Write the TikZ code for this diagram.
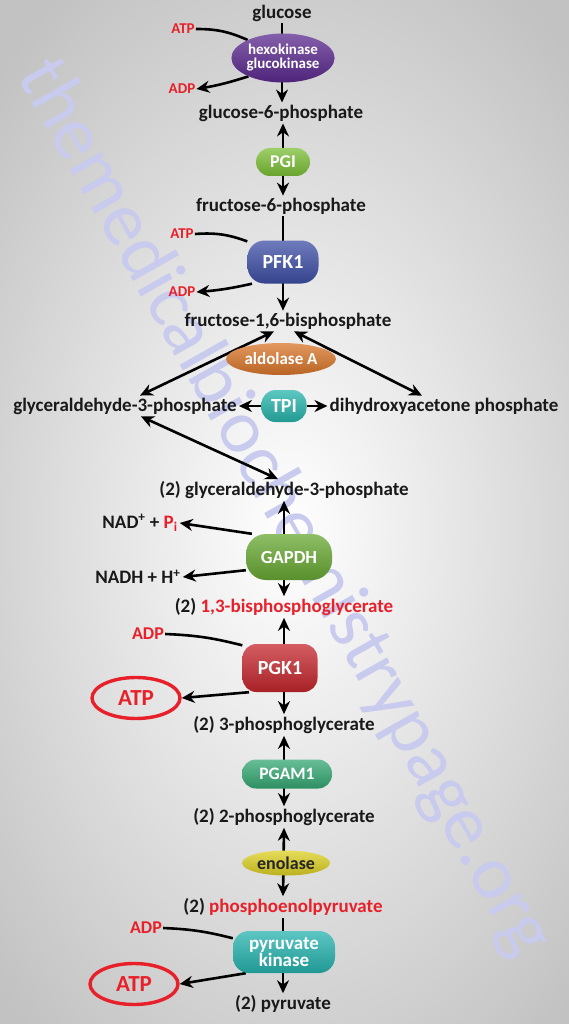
\documentclass[tikz,border=0pt]{standalone}
\usepackage{fontspec}
\setmainfont{Carlito}
\usepackage{xcolor}
\usepackage{tikz}
\usetikzlibrary{arrows.meta,shapes.geometric}
\definecolor{rxnred}{HTML}{E8202A}
\definecolor{hexo}{HTML}{5B2A8F}
\definecolor{pgi}{HTML}{7CBF36}
\definecolor{pfk}{HTML}{3E4FA6}
\definecolor{aldo}{HTML}{D9762A}
\definecolor{tpi}{HTML}{27B5AC}
\definecolor{gapdh}{HTML}{68A833}
\definecolor{pgk}{HTML}{C5272D}
\definecolor{pgam}{HTML}{35A873}
\definecolor{eno}{HTML}{DDD024}
\definecolor{pyk}{HTML}{26B3AE}
\definecolor{stamp}{HTML}{C8CAEE}
\pgfdeclarelayer{back}
\pgfdeclarelayer{lines}
\pgfsetlayers{back,lines,main}
\tikzset{
  metab/.style={font=\fontsize{19}{21}\selectfont\bfseries, text=black!90, inner sep=2pt},
  cofac/.style={font=\fontsize{15}{17}\selectfont\bfseries, text=rxnred, inner sep=1pt},
  bigcofac/.style={font=\fontsize{18}{20}\selectfont\bfseries, text=rxnred, inner sep=1pt},
  enzyme/.style={
    ellipse,
    inner sep=0pt,
    text=white,
    align=center,
    font=\fontsize{15}{15}\selectfont\bfseries,
    top color=#1!75!white,
    bottom color=#1!85!black,
    shading angle=0
  },
  enzbox/.style={enzyme=#1, rectangle, rounded corners=14pt},
  flow/.style={line width=2.6pt, -{Stealth[length=13pt,width=12pt]}},
  both/.style={line width=2.6pt, {Stealth[length=13pt,width=12pt]}-{Stealth[length=13pt,width=12pt]}},
  side/.style={line width=2.6pt},
  atpring/.style={ellipse, draw=rxnred, line width=3.4pt, text=rxnred,
    font=\fontsize{23}{25}\selectfont\bfseries, minimum width=88pt, minimum height=41pt}
}

\begin{document}
\begin{tikzpicture}[x=1pt,y=-1pt]
\useasboundingbox (0,0) rectangle (568,1024);
\begin{pgfonlayer}{back}
  \shade[inner color=white, outer color=black!24] (-120,-120) rectangle (700,1180);
  \node[rotate=-60.5, text=stamp, font=\fontsize{76}{76}\selectfont] (wm) at (284,508) {themedicalbiochemistrypage.org};
\end{pgfonlayer}

% metabolites down the centre
\node[metab] (glc) at (282,13) {glucose};
\node[metab] (g6p) at (281,113) {glucose-6-phosphate};
\node[metab] (f6p) at (281,206) {fructose-6-phosphate};
\node[metab] (f16) at (288,321) {fructose-1,6-bisphosphate};
\node[metab] (gap) at (125,406) {glyceraldehyde-3-phosphate};
\node[metab] (dhap) at (444,406) {dihydroxyacetone phosphate};
\node[metab] (gap2) at (284,490) {(2) glyceraldehyde-3-phosphate};
\node[metab] (bpg) at (284,607) {(2) \textcolor{rxnred}{1,3-bisphosphoglycerate}};
\node[metab] (pg3) at (284,725) {(2) 3-phosphoglycerate};
\node[metab] (pg2) at (284,817) {(2) 2-phosphoglycerate};
\node[metab] (pep) at (283,907) {(2) \textcolor{rxnred}{phosphoenolpyruvate}};
\node[metab] (pyr) at (283,1004) {(2) pyruvate};

% enzymes
\node[enzyme=hexo, minimum width=100pt, minimum height=49pt] (hk) at (283,58) {hexokinase\\[-1pt]glucokinase};
\node[enzbox=pgi, minimum width=54pt, minimum height=28pt, font=\fontsize{18}{18}\selectfont\bfseries] (pgiz) at (283,162) {PGI};
\node[enzbox=pfk, minimum width=71pt, minimum height=43pt, rounded corners=17pt, font=\fontsize{20}{20}\selectfont\bfseries] (pfk1) at (283,262) {PFK1};
\node[enzyme=aldo, minimum width=110pt, minimum height=32pt, font=\fontsize{17}{17}\selectfont\bfseries] (ald) at (281,359) {aldolase A};
\node[enzbox=tpi, minimum width=45pt, minimum height=32pt, font=\fontsize{20}{20}\selectfont\bfseries] (tpiz) at (284,406) {TPI};
\node[enzbox=gapdh, minimum width=86pt, minimum height=46pt, rounded corners=20pt, font=\fontsize{18.5}{18.5}\selectfont\bfseries] (gapdhz) at (289,557) {GAPDH};
\node[enzbox=pgk, minimum width=75pt, minimum height=48pt, font=\fontsize{20}{20}\selectfont\bfseries] (pgk1) at (280,668) {PGK1};
\node[enzbox=pgam, minimum width=90pt, minimum height=29pt, font=\fontsize{17.5}{17.5}\selectfont\bfseries] (pgam1) at (287,774) {PGAM1};
\node[enzyme=eno, minimum width=88pt, minimum height=25pt, text=black!85, font=\fontsize{18}{18}\selectfont\bfseries] (enol) at (286,863) {enolase};
\node[enzbox=pyk, minimum width=102pt, minimum height=42pt, rounded corners=16pt, font=\fontsize{19}{17}\selectfont\bfseries] (pk) at (284,952) {pyruvate\\kinase};

% cofactors
\node[cofac] (atpA) at (183,29) {ATP};
\node[cofac] (adpA) at (182,89) {ADP};
\node[cofac] (atpB) at (182,234) {ATP};
\node[cofac] (adpB) at (182,292) {ADP};
\node[metab] (nad) at (140,523) {NAD\textsuperscript{+} + \textcolor{rxnred}{P\textsubscript{i}}};
\node[metab] (nadh) at (138,577) {NADH + H\textsuperscript{+}};
\node[bigcofac] (adpC) at (148,634) {ADP};
\node[atpring] (atpC) at (136,698) {ATP};
\node[bigcofac] (adpD) at (146,928) {ADP};
\node[atpring] (atpD) at (134,984) {ATP};

\begin{pgfonlayer}{lines}
\draw[flow] (glc.south) -- (glc.south |- g6p.north);
\draw[side] (atpA.east) to[bend left=12] (hk.153);
\draw[flow] (hk.208) to[bend left=4] (adpA.east);
\draw[both] (pgiz.center |- g6p.south) -- (pgiz.center |- f6p.north);
\draw[flow] (pfk1.center |- f6p.south) -- (pfk1.center |- f16.north);
\draw[side] (atpB.east) to[bend left=12] (pfk1.150);
\draw[flow] (pfk1.215) to[bend left=4] (adpB.east);
\draw[both] ([xshift=15]gap.north) -- ([xshift=-14]f16.south);
\draw[both] ([xshift=-22]dhap.north) -- ([xshift=6]f16.south);
\draw[flow] (tpiz) -- (gap);
\draw[flow] (tpiz) -- (dhap);
\draw[both] ([xshift=16]gap.south) -- ([xshift=-6]gap2.north);
\draw[both] (gap2.south) -- (bpg.north);
\draw[flow] (gapdhz.148) -- (nad.east);
\draw[flow] (gapdhz.197) -- (nadh.east);
\draw[both] (bpg.south) -- (pg3.north);
\draw[side] (adpC.east) to[bend left=6] (pgk1.149);
\draw[flow] (pgk1.218) -- (atpC.east);
\draw[both] (pg3.south) -- (pg2.north);
\draw[both] (pg2.south) -- (pep.north);
\draw[flow] (pep.south) -- (pyr.north);
\draw[side] (adpD.east) to[bend left=6] (pk.165);
\draw[flow] (pk.209) -- (atpD.east);
\end{pgfonlayer}
\end{tikzpicture}
\end{document}
